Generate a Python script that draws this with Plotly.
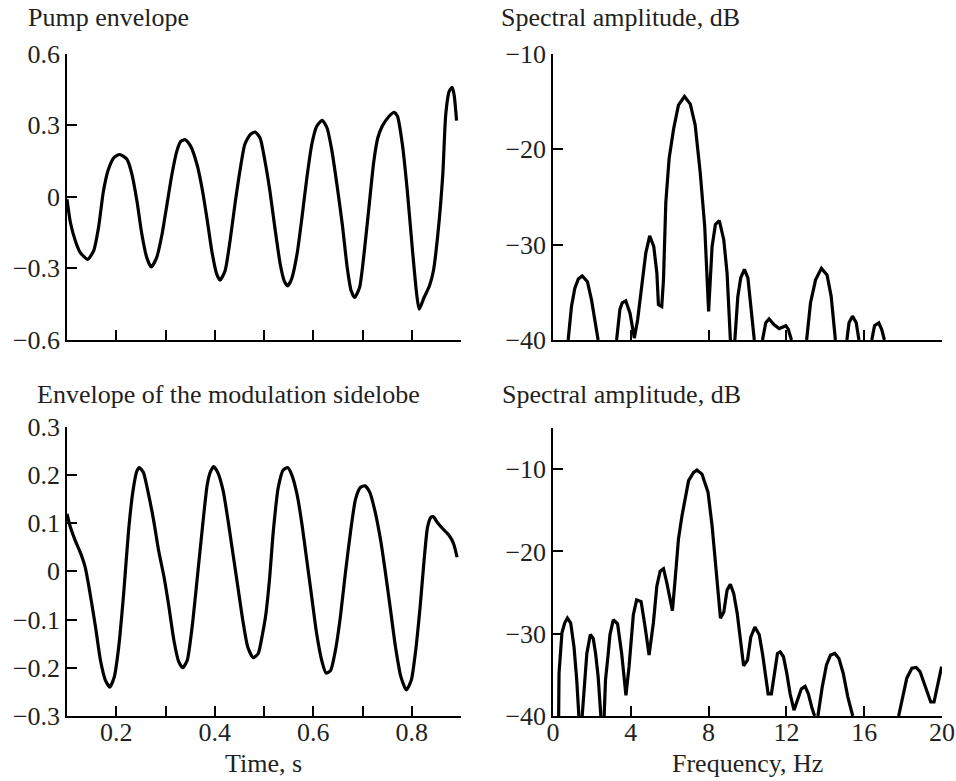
import plotly.graph_objects as go

# ---------------- data ----------------
# Top-left: pump envelope (time, s)
t_pump = [0.100, 0.107, 0.117, 0.127, 0.142, 0.154, 0.164, 0.174, 0.184, 0.195,
          0.207, 0.222, 0.232, 0.242, 0.252, 0.262, 0.271, 0.282, 0.293, 0.303,
          0.313, 0.323, 0.331, 0.340, 0.351, 0.364, 0.374, 0.384, 0.394, 0.404,
          0.411, 0.421, 0.431, 0.441, 0.451, 0.461, 0.472, 0.482, 0.492, 0.502,
          0.512, 0.522, 0.533, 0.541, 0.548, 0.556, 0.567, 0.577, 0.587, 0.597,
          0.607, 0.618, 0.628, 0.638, 0.648, 0.659, 0.669, 0.677, 0.684, 0.694,
          0.703, 0.713, 0.723, 0.731, 0.740, 0.754, 0.764, 0.771, 0.781, 0.791,
          0.801, 0.810, 0.815, 0.825, 0.836, 0.844, 0.853, 0.863, 0.869, 0.876,
          0.882, 0.886, 0.891]
v_pump = [-0.010, -0.109, -0.185, -0.234, -0.262, -0.227, -0.129, 0.024, 0.114, 0.163,
          0.177, 0.156, 0.093, -0.018, -0.157, -0.255, -0.294, -0.255, -0.157, -0.032,
          0.093, 0.191, 0.232, 0.239, 0.212, 0.135, 0.038, -0.088, -0.227, -0.324,
          -0.349, -0.310, -0.185, -0.032, 0.107, 0.219, 0.260, 0.271, 0.246, 0.149,
          0.024, -0.129, -0.283, -0.352, -0.373, -0.345, -0.241, -0.088, 0.079, 0.219,
          0.295, 0.320, 0.288, 0.191, 0.052, -0.116, -0.297, -0.394, -0.422, -0.380,
          -0.241, -0.046, 0.149, 0.246, 0.295, 0.337, 0.354, 0.337, 0.219, 0.024,
          -0.213, -0.408, -0.471, -0.422, -0.373, -0.310, -0.157, 0.093, 0.344, 0.441,
          0.458, 0.427, 0.319]

# Bottom-left: envelope of the modulation sidelobe
t_side = [0.100, 0.107, 0.117, 0.127, 0.137, 0.147, 0.158, 0.168, 0.178, 0.187,
          0.196, 0.205, 0.215, 0.225, 0.234, 0.242, 0.247, 0.255, 0.264, 0.276,
          0.286, 0.297, 0.307, 0.317, 0.327, 0.335, 0.344, 0.354, 0.364, 0.375,
          0.385, 0.392, 0.398, 0.406, 0.417, 0.427, 0.437, 0.447, 0.457, 0.467,
          0.478, 0.488, 0.497, 0.503, 0.511, 0.519, 0.529, 0.539, 0.548, 0.556,
          0.567, 0.577, 0.587, 0.597, 0.607, 0.618, 0.626, 0.635, 0.645, 0.655,
          0.665, 0.676, 0.686, 0.696, 0.705, 0.715, 0.725, 0.737, 0.747, 0.757,
          0.767, 0.778, 0.789, 0.799, 0.808, 0.817, 0.825, 0.832, 0.839, 0.844,
          0.852, 0.863, 0.876, 0.885, 0.892]
v_side = [0.119, 0.091, 0.063, 0.039, 0.008, -0.047, -0.116, -0.185, -0.226, -0.240,
          -0.219, -0.157, -0.047, 0.084, 0.167, 0.208, 0.215, 0.205, 0.167, 0.105,
          0.043, -0.012, -0.074, -0.143, -0.188, -0.200, -0.185, -0.116, -0.019, 0.091,
          0.181, 0.208, 0.217, 0.205, 0.167, 0.105, 0.036, -0.033, -0.102, -0.157,
          -0.179, -0.171, -0.130, -0.095, -0.019, 0.084, 0.174, 0.210, 0.215, 0.201,
          0.160, 0.098, 0.022, -0.054, -0.130, -0.188, -0.211, -0.206, -0.164, -0.095,
          -0.006, 0.084, 0.150, 0.174, 0.177, 0.163, 0.126, 0.063, -0.006, -0.081,
          -0.157, -0.219, -0.246, -0.226, -0.164, -0.074, 0.022, 0.091, 0.112, 0.113,
          0.101, 0.088, 0.074, 0.057, 0.029]

# Top-right: spectrum of pump envelope (None = below -40 dB)
f_pump = [0.78, 0.95, 1.12, 1.30, 1.50, 1.77, 1.98, 2.15, 2.32, None,
          3.27, 3.44, 3.56, 3.74, 3.96, 4.18, 4.35, 4.56, 4.77, 4.97,
          5.18, 5.34, 5.42, 5.59, 5.68, 5.80, 5.97, 6.20, 6.45, 6.76,
          7.06, 7.31, 7.57, 7.80, 8.00, 8.18, 8.35, 8.55, 8.78, 8.95, 9.12, None,
          9.35, 9.50, 9.65, 9.84, 10.02, 10.18, 10.35, None,
          10.77, 10.94, 11.11, 11.37, 11.63, 11.97, 12.10, 12.26, None,
          13.04, 13.24, 13.50, 13.80, 14.09, 14.30, 14.52, None,
          15.11, 15.22, 15.40, 15.59, 15.73, None,
          16.39, 16.53, 16.75, 16.90, 17.04]
db_pump = [-40, -36.5, -34.6, -33.6, -33.3, -33.9, -35.8, -37.9, -40, None,
           -40, -36.8, -36.1, -35.9, -37.2, -39.8, -37.9, -34.4, -30.9, -29.1,
           -30.2, -33.0, -36.3, -36.5, -33.7, -25.6, -21.0, -17.9, -15.4, -14.5,
           -15.3, -17.5, -22.5, -28.1, -37.0, -30.2, -27.9, -27.5, -29.5, -33.0, -40, None,
           -40, -35.5, -33.5, -32.6, -33.5, -36.5, -40, None,
           -40, -38.2, -37.8, -38.4, -38.8, -38.5, -38.9, -40, None,
           -40, -36.1, -33.7, -32.5, -33.2, -35.4, -40, None,
           -40, -38.2, -37.5, -38.2, -40, None,
           -40, -38.5, -38.2, -38.9, -40]

# Bottom-right: spectrum of sidelobe envelope
f_side = [0.29, 0.31, 0.46, 0.60, 0.74, 0.91, 1.08, 1.22, 1.33, None,
          1.50, 1.62, 1.74, 1.92, 2.07, 2.19, 2.32, 2.46, None,
          2.63, 2.70, 2.84, 2.93, 3.10, 3.32, 3.53, 3.70, 3.75, 3.91,
          4.13, 4.30, 4.53, 4.73, 4.94, 5.16, 5.34, 5.51, 5.68, 5.85,
          5.99, 6.14, 6.28, 6.45, 6.63, 6.80, 6.97, 7.23, 7.40, 7.66,
          7.97, 8.18, 8.35, 8.52, 8.61, 8.78, 8.95, 9.12, 9.29, 9.47,
          9.64, 9.80, 10.00, 10.17, 10.38, 10.60, 10.77, 10.94, 11.06, 11.23,
          11.37, 11.54, 11.68, 11.85, 12.02, 12.19, 12.39, 12.56, 12.77, 12.96,
          13.13, 13.30, 13.45, None,
          13.62, 13.84, 14.06, 14.27, 14.49, 14.70, 14.92, 15.16, 15.41, None,
          17.77, 17.99, 18.19, 18.45, 18.67, 18.87, 19.08, 19.30, 19.42, 19.59,
          19.76, 19.98]
db_side = [-40, -34.8, -29.9, -28.7, -28.1, -28.7, -31.6, -35.6, -40, None,
           -40, -36.5, -32.4, -30.1, -30.6, -32.4, -35.2, -40, None,
           -40, -35.6, -32.4, -30.1, -28.3, -28.8, -32.4, -36.5, -37.5, -34.0,
           -27.7, -25.9, -26.1, -29.1, -32.6, -28.7, -24.2, -22.4, -22.1, -23.8,
           -25.5, -27.2, -23.4, -18.5, -15.7, -13.3, -11.4, -10.4, -10.1, -10.6,
           -12.8, -16.9, -21.4, -25.5, -28.1, -27.4, -24.7, -24.0, -25.1, -27.5,
           -30.8, -33.9, -33.2, -30.4, -29.2, -30.1, -32.4, -35.2, -37.3, -37.3,
           -34.8, -32.4, -32.2, -32.8, -34.8, -37.3, -39.3, -38.1, -36.7, -36.4,
           -37.3, -38.9, -40, None,
           -40, -36.5, -33.8, -32.6, -32.4, -33.0, -34.8, -37.7, -40, None,
           -40, -37.7, -35.4, -34.2, -34.1, -34.6, -36.0, -37.7, -38.3, -38.3,
           -36.5, -34.0]

# ticks
time_ticks = [0.1, 0.2, 0.3, 0.4, 0.5, 0.6, 0.7, 0.8, 0.9]
time_labels = ["", "0.2", "", "0.4", "", "0.6", "", "0.8", ""]
freq_ticks = [0, 4, 8, 12, 16, 20]
freq_labels = ["0", "4", "8", "12", "16", "20"]
pump_yticks = [-0.6, -0.3, 0, 0.3, 0.6]
pump_ylabels = ["\u22120.6", "\u22120.3", "0", "0.3", "0.6"]
side_yticks = [-0.3, -0.2, -0.1, 0, 0.1, 0.2, 0.3]
side_ylabels = ["\u22120.3", "\u22120.2", "\u22120.1", "0", "0.1", "0.2", "0.3"]
db_ticks = [-40, -30, -20, -10]
db_labels = ["\u221240", "\u221230", "\u221220", "\u221210"]

titles = ["Pump envelope", "Spectral amplitude, dB",
          "Envelope of the modulation sidelobe", "Spectral amplitude, dB"]
xtitles = ["Time, s", "Frequency, Hz"]

# ---------------- figure ----------------
W, H = 956, 781
FONT = "Liberation Serif, Times New Roman, serif"
TXT = "#231f20"
FS = 26

def px(x):
    return x / W

def py(y):
    return 1 - y / H

line = dict(color="black", width=3.2)
fig = go.Figure()
fig.add_trace(go.Scatter(x=t_pump, y=v_pump, mode="lines", line=dict(line, shape="spline", smoothing=0.6),
                         xaxis="x", yaxis="y"))
fig.add_trace(go.Scatter(x=f_pump, y=db_pump, mode="lines", line=line, connectgaps=False,
                         xaxis="x2", yaxis="y2"))
fig.add_trace(go.Scatter(x=t_side, y=v_side, mode="lines", line=dict(line, shape="spline", smoothing=0.6),
                         xaxis="x3", yaxis="y3"))
fig.add_trace(go.Scatter(x=f_side, y=db_side, mode="lines", line=line, connectgaps=False,
                         xaxis="x4", yaxis="y4"))

dom_xl = [px(67), px(461)]
dom_xr = [px(553), px(942)]
dom_yt = [py(340), py(53.5)]
dom_yb = [py(716), py(426.5)]
dom_ybr = [py(716), py(428)]

ax_common = dict(showline=True, linecolor="black", linewidth=1.5, ticks="inside",
                 ticklen=10, tickwidth=1.5, tickcolor="black", showgrid=False,
                 zeroline=False, tickmode="array", automargin=False,
                 tickfont=dict(family=FONT, size=FS, color=TXT))
xax_common = dict(ax_common, ticklabelstandoff=-8)

fig.update_layout(
    template="none",
    width=W, height=H, margin=dict(l=0, r=0, t=0, b=0, pad=0),
    paper_bgcolor="white", plot_bgcolor="white", showlegend=False,
    font=dict(family=FONT, size=FS, color=TXT),
    xaxis=dict(xax_common, domain=dom_xl, range=[0.1, 0.9], tickvals=time_ticks,
               ticktext=[""] * len(time_ticks), anchor="y"),
    yaxis=dict(ax_common, domain=dom_yt, range=[-0.6, 0.6], tickvals=pump_yticks,
               ticktext=pump_ylabels, anchor="x"),
    xaxis2=dict(xax_common, domain=dom_xr, range=[0, 20], tickvals=freq_ticks,
                ticktext=[""] * len(freq_ticks), anchor="y2"),
    yaxis2=dict(ax_common, domain=dom_yt, range=[-40, -10], tickvals=db_ticks,
                ticktext=db_labels, anchor="x2"),
    xaxis3=dict(xax_common, domain=dom_xl, range=[0.1, 0.9], tickvals=time_ticks,
                ticktext=time_labels, anchor="y3"),
    yaxis3=dict(ax_common, domain=dom_yb, range=[-0.3, 0.3], tickvals=side_yticks,
                ticktext=side_ylabels, anchor="x3"),
    xaxis4=dict(xax_common, domain=dom_xr, range=[0, 20], tickvals=freq_ticks,
                ticktext=freq_labels, anchor="y4"),
    yaxis4=dict(ax_common, domain=dom_ybr, range=[-40, -5], tickvals=db_ticks,
                ticktext=db_labels, anchor="x4"),
)

ann_pos = [(26, 18), (499, 18), (35, 394), (500, 394)]
for txt, (x, y) in zip(titles, ann_pos):
    fig.add_annotation(text=txt, x=px(x), y=py(y), xref="paper", yref="paper",
                       xanchor="left", yanchor="middle", showarrow=False,
                       font=dict(family=FONT, size=FS, color=TXT))
for txt, (x, y) in zip(xtitles, [(263, 763), (747, 763)]):
    fig.add_annotation(text=txt, x=px(x), y=py(y), xref="paper", yref="paper",
                       xanchor="center", yanchor="middle", showarrow=False,
                       font=dict(family=FONT, size=FS, color=TXT))

fig.write_html("out.html")
